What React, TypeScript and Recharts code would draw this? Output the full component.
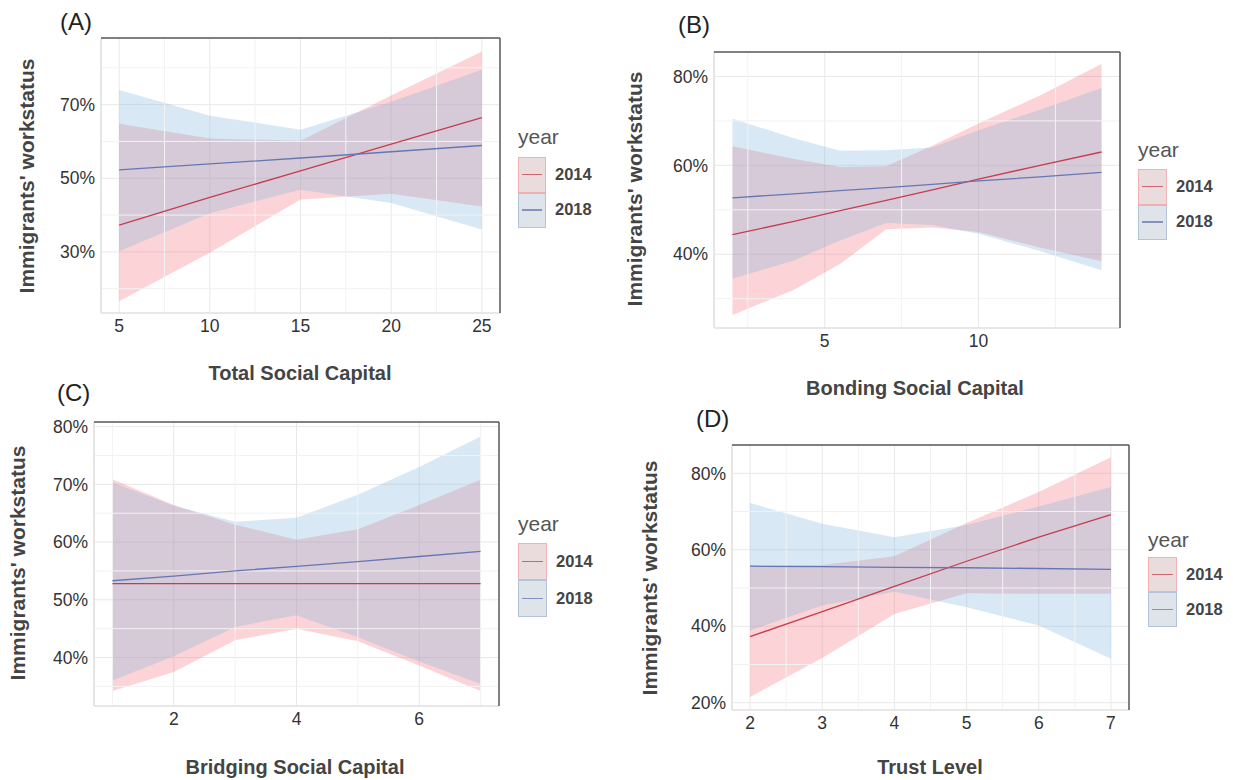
import React from 'react';
import {
  ComposedChart,
  Area,
  Line,
  XAxis,
  YAxis,
  CartesianGrid,
  ReferenceLine,
} from 'recharts';

// series
const YEARS = ['2014', '2018'];
const LINE_COLORS = ['#c63c4c', '#6577b3'];
const FILL_COLORS = ['#f4727c', '#7fb2dc'];
const KEY_FILLS = ['#eadcdd', '#dfe4eb'];
const KEY_BORDERS = ['#efb1b4', '#b3c3d8'];

// (A) Total Social Capital
const xA = [5, 10, 15, 20, 25];
const fitA2014 = [37.3, 44.8, 52.0, 59.3, 66.5];
const lowA2014 = [16.6, 29.8, 44.2, 45.8, 42.3];
const highA2014 = [64.8, 60.8, 60.2, 72.5, 84.4];
const fitA2018 = [52.3, 53.9, 55.5, 57.2, 58.9];
const lowA2018 = [30.2, 40.5, 46.9, 43.3, 36.1];
const highA2018 = [74.0, 67.0, 63.2, 70.8, 79.5];
const xTicksA = [5, 10, 15, 20, 25];
const xMinorA = [7.5, 12.5, 17.5, 22.5];
const yTicksA = [30, 50, 70];
const yMinorA = [20, 40, 60, 80];

// (B) Bonding Social Capital
const xB = [2, 4, 5.5, 7, 8.5, 10, 12, 14];
const fitB2014 = [44.4, 47.4, 49.8, 52.1, 54.5, 56.9, 60.0, 63.0];
const lowB2014 = [26.3, 32.0, 37.8, 45.6, 46.0, 45.0, 41.5, 38.4];
const highB2014 = [64.3, 61.4, 59.6, 59.8, 64.4, 69.4, 75.7, 82.8];
const fitB2018 = [52.7, 53.6, 54.3, 55.0, 55.7, 56.5, 57.4, 58.4];
const lowB2018 = [34.5, 38.6, 43.1, 47.0, 46.6, 44.6, 40.7, 36.4];
const highB2018 = [70.5, 66.1, 63.3, 63.4, 64.0, 67.9, 72.5, 77.4];
const xTicksB = [5, 10];
const xMinorB = [2.5, 7.5, 12.5];
const yTicksB = [40, 60, 80];
const yMinorB = [30, 50, 70];

// (C) Bridging Social Capital
const xC = [1, 2, 3, 4, 5, 6, 7];
const fitC2014 = [52.8, 52.8, 52.8, 52.8, 52.8, 52.8, 52.8];
const lowC2014 = [34.2, 37.5, 43.0, 45.0, 42.8, 38.6, 34.2];
const highC2014 = [70.9, 66.4, 63.0, 60.4, 62.2, 66.4, 70.8];
const fitC2018 = [53.3, 54.1, 55.0, 55.8, 56.6, 57.5, 58.4];
const lowC2018 = [36.0, 40.2, 45.3, 47.3, 43.5, 39.3, 35.4];
const highC2018 = [70.3, 66.3, 63.5, 64.2, 68.2, 73.0, 78.3];
const xTicksC = [2, 4, 6];
const xMinorC = [1, 3, 5, 7];
const yTicksC = [40, 50, 60, 70, 80];
const yMinorC = [35, 45, 55, 65, 75];

// (D) Trust Level
const xD = [2, 3, 4, 5, 6, 7];
const fitD2014 = [37.3, 43.8, 50.4, 57.0, 63.3, 69.2];
const lowD2014 = [21.5, 31.7, 43.2, 48.6, 48.5, 48.5];
const highD2014 = [55.9, 56.0, 58.3, 67.0, 75.1, 84.2];
const fitD2018 = [55.7, 55.6, 55.4, 55.3, 55.1, 54.9];
const lowD2018 = [38.9, 45.4, 49.0, 45.0, 40.2, 31.5];
const highD2018 = [72.2, 66.8, 63.3, 66.5, 71.3, 76.4];
const xTicksD = [2, 3, 4, 5, 6, 7];
const xMinorD = [2.5, 3.5, 4.5, 5.5, 6.5];
const yTicksD = [20, 40, 60, 80];
const yMinorD = [30, 50, 70];

const buildRows = (
  xs: number[],
  fit14: number[],
  lo14: number[],
  hi14: number[],
  fit18: number[],
  lo18: number[],
  hi18: number[]
) =>
  xs.map((x, i) => ({
    x,
    fit14: fit14[i],
    band14: [lo14[i], hi14[i]],
    fit18: fit18[i],
    band18: [lo18[i], hi18[i]],
  }));

const Y_W = 62;
const X_H = 34;
const PAD_T = 12;
const PAD_R = 2;
const TICK_FONT = 17.5;
const TEXT = '#333';
const TITLE = '#444';

type PanelProps = {
  tag: string;
  box: [number, number, number, number]; // left, top, right, bottom of plot area
  rows: any[];
  xDomain: [number, number];
  yDomain: [number, number];
  xTicks: number[];
  xMinor: number[];
  yTicks: number[];
  yMinor: number[];
  xTitle: string;
  tagPos: [number, number];
  yTitlePos: [number, number];
  xTitlePos: [number, number];
  legend: { left: number; titleY: number; keyTop: number; keyH: number; keyW: number };
};

const Legend: React.FC<PanelProps['legend']> = ({ left, titleY, keyTop, keyH, keyW }) => (
  <>
    <div
      style={{
        position: 'absolute',
        left,
        top: titleY - 12,
        fontSize: 21,
        lineHeight: '24px',
        color: '#555',
      }}
    >
      year
    </div>
    {YEARS.map((yr, i) => (
      <React.Fragment key={yr}>
        <div
          style={{
            position: 'absolute',
            left,
            top: keyTop + i * keyH,
            width: keyW,
            height: keyH,
            boxSizing: 'border-box',
            background: KEY_FILLS[i],
            border: `1.5px solid ${KEY_BORDERS[i]}`,
          }}
        >
          <div
            style={{
              position: 'absolute',
              left: 3,
              right: 3,
              top: keyH / 2 - 2,
              height: 1.3,
              background: LINE_COLORS[i],
              opacity: 0.75,
            }}
          />
        </div>
        <div
          style={{
            position: 'absolute',
            left: left + keyW + 9,
            top: keyTop + i * keyH + keyH / 2 - 11,
            fontSize: 16.5,
            lineHeight: '20px',
            fontWeight: 'bold',
            color: TITLE,
          }}
        >
          {yr}
        </div>
      </React.Fragment>
    ))}
  </>
);

const Panel: React.FC<PanelProps> = (p) => {
  const [L, T, R, B] = p.box;
  const w = R - L + Y_W + PAD_R;
  const h = B - T + X_H + PAD_T;
  return (
    <>
      <div style={{ position: 'absolute', left: p.tagPos[0], top: p.tagPos[1], fontSize: 24, lineHeight: '24px', color: '#222' }}>
        {p.tag}
      </div>
      <div
        style={{
          position: 'absolute',
          left: p.yTitlePos[0],
          top: p.yTitlePos[1],
          transform: 'translate(-50%, -50%) rotate(-90deg)',
          whiteSpace: 'nowrap',
          fontSize: 21,
          fontWeight: 'bold',
          color: TITLE,
        }}
      >
        Immigrants' workstatus
      </div>
      <div
        style={{
          position: 'absolute',
          left: p.xTitlePos[0] - 200,
          width: 400,
          top: p.xTitlePos[1] - 12,
          lineHeight: '24px',
          textAlign: 'center',
          fontSize: 20,
          fontWeight: 'bold',
          color: TITLE,
        }}
      >
        {p.xTitle}
      </div>
      <Legend {...p.legend} />
      <div style={{ position: 'absolute', left: L - Y_W, top: T - PAD_T, width: w, height: h }}>
        <ComposedChart width={w} height={h} data={p.rows} margin={{ top: PAD_T, right: PAD_R, bottom: 0, left: 0 }}>
          <CartesianGrid stroke="#e8e8e8" strokeWidth={1} />
          {p.xMinor.map((v) => (
            <ReferenceLine key={`mx${v}`} x={v} stroke="#f2f2f2" strokeWidth={1} />
          ))}
          {p.yMinor.map((v) => (
            <ReferenceLine key={`my${v}`} y={v} stroke="#f2f2f2" strokeWidth={1} />
          ))}
          <XAxis
            type="number"
            dataKey="x"
            domain={p.xDomain}
            ticks={p.xTicks}
            allowDataOverflow
            interval={0}
            axisLine={false}
            tickLine={false}
            tickSize={0}
            tickMargin={7}
            height={X_H}
            tick={{ fontSize: TICK_FONT, fill: TEXT }}
          />
          <YAxis
            type="number"
            domain={p.yDomain}
            ticks={p.yTicks}
            allowDataOverflow
            interval={0}
            axisLine={false}
            tickLine={false}
            tickSize={0}
            tickMargin={6}
            width={Y_W}
            tick={{ fontSize: TICK_FONT, fill: TEXT }}
            tickFormatter={(v) => `${v}%`}
          />
          <Area dataKey="band14" type="linear" stroke="none" fill={FILL_COLORS[0]} fillOpacity={0.3} isAnimationActive={false} />
          <Area dataKey="band18" type="linear" stroke="none" fill={FILL_COLORS[1]} fillOpacity={0.3} isAnimationActive={false} />
          <Line dataKey="fit14" type="linear" stroke={LINE_COLORS[0]} strokeWidth={1.3} dot={false} isAnimationActive={false} />
          <Line dataKey="fit18" type="linear" stroke={LINE_COLORS[1]} strokeWidth={1.3} dot={false} isAnimationActive={false} />
          <ReferenceLine x={p.xDomain[0]} stroke="#dcdcdc" strokeWidth={1.2} />
          <ReferenceLine y={p.yDomain[0]} stroke="#dcdcdc" strokeWidth={1.2} />
          <ReferenceLine y={p.yDomain[1]} stroke="#5a5a5a" strokeWidth={1.5} />
          <ReferenceLine x={p.xDomain[1]} stroke="#5a5a5a" strokeWidth={1.5} />
        </ComposedChart>
      </div>
    </>
  );
};

export default function App() {
  return (
    <div
      style={{
        position: 'absolute',
        left: 0,
        top: 0,
        width: 1233,
        height: 780,
        background: '#fff',
        fontFamily: '"Liberation Sans", Arial, sans-serif',
        overflow: 'hidden',
      }}
    >
      <Panel
        tag="(A)"
        box={[101, 38, 500, 313]}
        rows={buildRows(xA, fitA2014, lowA2014, highA2014, fitA2018, lowA2018, highA2018)}
        xDomain={[4, 26]}
        yDomain={[13.4, 88.1]}
        xTicks={xTicksA}
        xMinor={xMinorA}
        yTicks={yTicksA}
        yMinor={yMinorA}
        xTitle="Total Social Capital"
        tagPos={[60, 10]}
        yTitlePos={[27, 176]}
        xTitlePos={[300, 373]}
        legend={{ left: 518, titleY: 137, keyTop: 157, keyH: 35.5, keyW: 28 }}
      />
      <Panel
        tag="(B)"
        box={[714, 52, 1120, 328]}
        rows={buildRows(xB, fitB2014, lowB2014, highB2014, fitB2018, lowB2018, highB2018)}
        xDomain={[1.4, 14.6]}
        yDomain={[23.4, 85.5]}
        xTicks={xTicksB}
        xMinor={xMinorB}
        yTicks={yTicksB}
        yMinor={yMinorB}
        xTitle="Bonding Social Capital"
        tagPos={[678, 13]}
        yTitlePos={[635, 189]}
        xTitlePos={[915, 388]}
        legend={{ left: 1138, titleY: 150, keyTop: 169, keyH: 35.5, keyW: 29 }}
      />
      <Panel
        tag="(C)"
        box={[94, 422, 499, 706]}
        rows={buildRows(xC, fitC2014, lowC2014, highC2014, fitC2018, lowC2018, highC2018)}
        xDomain={[0.7, 7.3]}
        yDomain={[31.6, 80.8]}
        xTicks={xTicksC}
        xMinor={xMinorC}
        yTicks={yTicksC}
        yMinor={yMinorC}
        xTitle="Bridging Social Capital"
        tagPos={[57, 381]}
        yTitlePos={[18, 563]}
        xTitlePos={[295, 767]}
        legend={{ left: 518, titleY: 524, keyTop: 543, keyH: 37, keyW: 29 }}
      />
      <Panel
        tag="(D)"
        box={[732, 445, 1129, 710]}
        rows={buildRows(xD, fitD2014, lowD2014, highD2014, fitD2018, lowD2018, highD2018)}
        xDomain={[1.75, 7.25]}
        yDomain={[18.1, 87.4]}
        xTicks={xTicksD}
        xMinor={xMinorD}
        yTicks={yTicksD}
        yMinor={yMinorD}
        xTitle="Trust Level"
        tagPos={[696, 407]}
        yTitlePos={[650, 578]}
        xTitlePos={[930, 767]}
        legend={{ left: 1148, titleY: 540, keyTop: 557, keyH: 35, keyW: 29 }}
      />
    </div>
  );
}
